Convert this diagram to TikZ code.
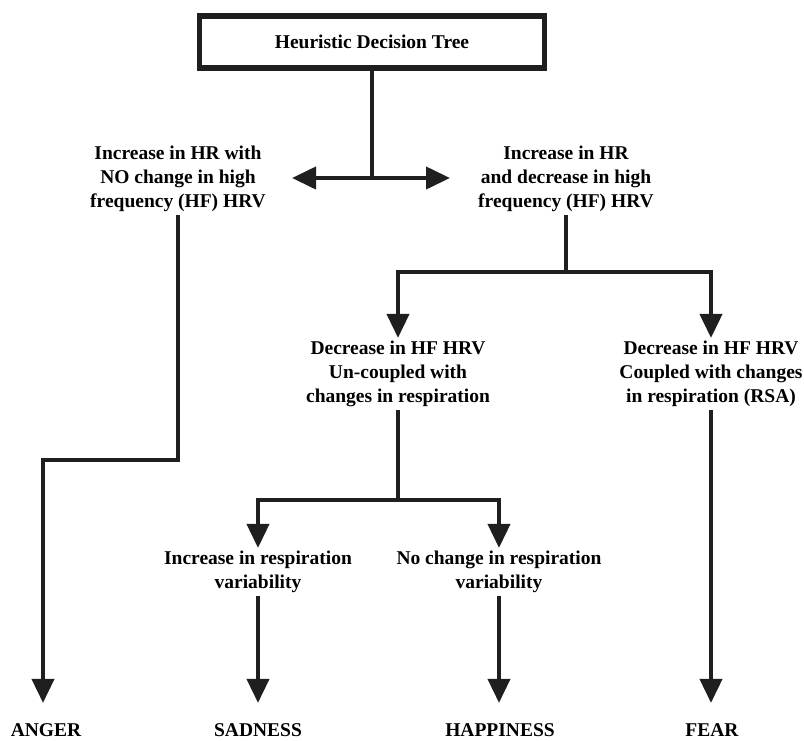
\documentclass[tikz,border=0pt]{standalone}
\usepackage{fontspec}
\setmainfont{Liberation Serif}
\usetikzlibrary{arrows.meta}
\begin{document}
\begin{tikzpicture}[x=1pt,y=-1pt,
  txt/.style={font=\bfseries\fontsize{19.5}{24}\selectfont, align=center, inner sep=3pt},
  lbl/.style={font=\bfseries\fontsize{19.5}{22}\selectfont, inner sep=0pt, anchor=base},
  ln/.style={line width=4pt, draw=black!88, line join=miter},
  arr/.style={ln, -{Triangle[length=24pt,width=22pt]}},
  darr/.style={ln, {Triangle[length=24pt,width=22pt]}-{Triangle[length=24pt,width=22pt]}}]
\useasboundingbox (0,0) rectangle (804,740);
\node[draw=black!88, line width=5.5pt, minimum width=345pt, minimum height=52pt,
  font=\bfseries\fontsize{19.5}{22}\selectfont] (top) at (372,42) {Heuristic Decision Tree};
\node[txt] (left) at (178,179) {Increase in HR with\\NO change in high\\frequency (HF) HRV};
\node[txt] (right) at (566,179) {Increase in HR\\and decrease in high\\frequency (HF) HRV};
\node[txt] (mid) at (398,374) {Decrease in HF HRV\\Un-coupled with\\changes in respiration};
\node[txt] (rsa) at (711,374) {Decrease in HF HRV\\Coupled with changes\\in respiration (RSA)};
\node[txt] (inc) at (258,572) {Increase in respiration\\variability};
\node[txt] (noc) at (499,572) {No change in respiration\\variability};
\node[lbl] (anger) at (46,736) {ANGER};
\node[lbl] (sad) at (258,736) {SADNESS};
\node[lbl] (hap) at (500,736) {HAPPINESS};
\node[lbl] (fear) at (712,736) {FEAR};
% junctions
\coordinate (j1) at (372,178);
\coordinate (al) at (292,178);
\coordinate (ar) at (450,178);
\coordinate (j2) at (566,272);
\coordinate (j3) at (398,500);
\coordinate (k1) at (178,460);
\coordinate (k2) at (43,460);
% connectors
\draw[ln] (top.south) -- (j1);
\draw[darr] (al) -- (ar);
\draw[arr] (left.south) -- (k1) -- (k2) -- ([yshift=20pt]anger.north -| k2);
\draw[ln] (right.south) -- (j2);
\draw[arr] (j2) -| (mid.north);
\draw[arr] (j2) -| (rsa.north);
\draw[ln] (mid.south) -- (j3);
\draw[arr] (j3) -| (inc.north);
\draw[arr] (j3) -| (noc.north);
\draw[arr] (inc.south) -- ([yshift=20pt]sad.north -| inc.south);
\draw[arr] (noc.south) -- ([yshift=20pt]hap.north -| noc.south);
\draw[arr] (rsa.south) -- ([yshift=20pt]fear.north -| rsa.south);
\end{tikzpicture}
\end{document}
